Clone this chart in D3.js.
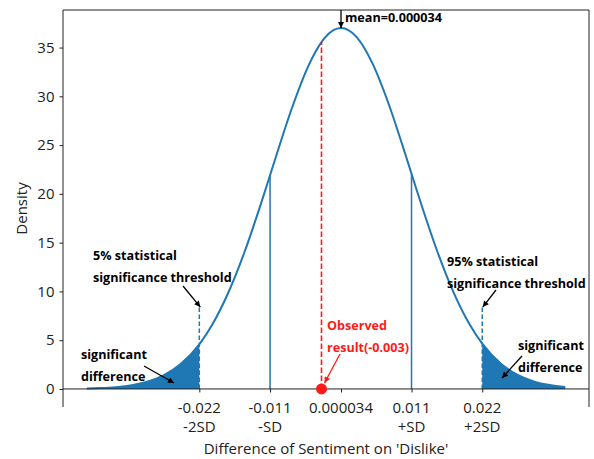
<!DOCTYPE html>
<html><head><meta charset="utf-8">
<script src="https://cdn.jsdelivr.net/npm/d3@7"></script>
<style>body{margin:0;background:#fff}svg{display:block}text{font-family:"Open Sans","Noto Sans",sans-serif}</style>
</head><body><svg id="c" width="594" height="459"></svg>
<script>
// ---- data ----
const curveX = [-0.0395,-0.0375,-0.035,-0.0325,-0.030,-0.0275,-0.025,-0.022,-0.020,-0.0175,-0.015,-0.0125,-0.011,-0.010,-0.0075,-0.005,-0.003,-0.0025,0.000034,0.0025,0.005,0.0075,0.010,0.011,0.0125,0.015,0.0175,0.020,0.022,0.025,0.0275,0.030,0.0325,0.0349];
const curveY = [0.044,0.086,0.188,0.39,0.763,1.418,2.497,4.58,6.58,9.86,13.99,18.82,21.91,23.99,28.98,33.18,35.56,35.99,37.0,36.05,33.27,29.11,24.14,22.06,18.96,14.12,9.96,6.66,4.64,2.53,1.44,0.777,0.397,0.198];
const meanValue = 0.000034;
const meanDensity = 37.0;
const sdLines = [-0.011, 0.011];
const sdDensity = [21.91, 22.06];
const thresholds = [-0.022, 0.022];
const thresholdTop = 8.5;
const observed = -0.003;
const observedDensity = 35.56;
const yTicks = [0,5,10,15,20,25,30,35];
const xTickValues = [-0.022,-0.011,0.000034,0.011,0.022];
const xTickLine1 = ["-0.022","-0.011","0.000034","0.011","0.022"];
const xTickLine2 = ["-2SD","-SD","","+SD","+2SD"];

const blue = "#1f77b4", red = "#ff1a1a";
const svg = d3.select("#c");
const L = 63, T = 10, W = 526, H = 397;
const x = d3.scaleLinear().domain([-0.0432, 0.0386]).range([L, L+W]);
const y = d3.scaleLinear().domain([-1.85, 38.85]).range([T+H, T]);
const pts = curveX.map((v,i)=>[v, curveY[i]]);

const defs = svg.append("defs");
function mk(id, col){
  defs.append("marker").attr("id",id).attr("viewBox","0 0 10 10").attr("refX",10).attr("refY",5)
    .attr("markerWidth",7).attr("markerHeight",6).attr("markerUnits","userSpaceOnUse").attr("orient","auto")
    .append("path").attr("d","M0,0L10,5L0,10z").attr("fill",col);
}
mk("ak","#000"); mk("ar",red);

// fills
const area = d3.area().x(d=>x(d[0])).y0(y(0)).y1(d=>y(d[1])).curve(d3.curveMonotoneX);
svg.append("path").datum(pts.filter(d=>d[0] <= thresholds[0])).attr("d",area).attr("fill",blue);
svg.append("path").datum(pts.filter(d=>d[0] >= thresholds[1])).attr("d",area).attr("fill",blue);

// curve
const line = d3.line().x(d=>x(d[0])).y(d=>y(d[1])).curve(d3.curveMonotoneX);
svg.append("path").datum(pts).attr("d",line).attr("fill","none").attr("stroke",blue).attr("stroke-width",2);

// SD lines
sdLines.forEach((v,i)=>svg.append("line").attr("x1",x(v)).attr("x2",x(v)).attr("y1",y(0)).attr("y2",y(sdDensity[i]))
  .attr("stroke",blue).attr("stroke-width",1.5));
// threshold dashed
thresholds.forEach(v=>svg.append("line").attr("x1",x(v)).attr("x2",x(v)).attr("y1",y(0)).attr("y2",y(thresholdTop))
  .attr("stroke",blue).attr("stroke-width",1.5).attr("stroke-dasharray","4.5,2.5"));
// observed dashed
svg.append("line").attr("x1",x(observed)).attr("x2",x(observed)).attr("y1",y(0)).attr("y2",y(observedDensity))
  .attr("stroke",red).attr("stroke-width",1.6).attr("stroke-dasharray","5.5,2.5");

// spines
const sp = svg.append("g").attr("stroke","#222").attr("stroke-width",1).attr("fill","none");
sp.append("line").attr("x1",L).attr("x2",L).attr("y1",T).attr("y2",T+H);
sp.append("line").attr("x1",L+W).attr("x2",L+W).attr("y1",T).attr("y2",T+H);
sp.append("line").attr("x1",L).attr("x2",L+W).attr("y1",T).attr("y2",T);

// y axis
const ya = svg.append("g").attr("transform",`translate(${L},0)`)
  .call(d3.axisLeft(y).tickValues(yTicks).tickSize(3.5).tickPadding(5).tickFormat(d3.format("d")));
ya.select(".domain").remove();
ya.selectAll("line").attr("stroke","#222");
ya.selectAll("text").attr("font-size",15).attr("fill","#222").style("font-family",'"Open Sans","Noto Sans",sans-serif');

// x axis on zero line
const xa = svg.append("g").attr("transform",`translate(0,${y(0)})`)
  .call(d3.axisBottom(x).tickValues(xTickValues).tickSize(3.5).tickFormat(""));
xa.select(".domain").attr("d",`M${L},0H${L+W}`).attr("stroke","#222");
xa.selectAll("line").attr("stroke","#222");
xTickValues.forEach((v,i)=>{
  const t = svg.append("text").attr("x",x(v)).attr("text-anchor","middle").attr("font-size",15).attr("fill","#222");
  t.append("tspan").attr("x",x(v)).attr("y",y(0)+24).text(xTickLine1[i]);
  t.append("tspan").attr("x",x(v)).attr("y",y(0)+43).text(xTickLine2[i]);
});
svg.append("text").attr("x",L+W/2).attr("y",454).attr("text-anchor","middle").attr("font-size",15).attr("fill","#222")
  .text("Difference of Sentiment on 'Dislike'");
svg.append("text").attr("transform",`translate(27,${T+H/2}) rotate(-90)`).attr("text-anchor","middle")
  .attr("font-size",15).attr("fill","#222").text("Density");

// annotations
function note(lines, tx, ty, col, from, to){
  const t = svg.append("text").attr("font-size",12.6).attr("font-weight","bold").attr("fill",col);
  lines.forEach((s,i)=>t.append("tspan").attr("x",tx).attr("y",ty+i*22).text(s));
  if(from) svg.append("line").attr("x1",from[0]).attr("y1",from[1]).attr("x2",to[0]).attr("y2",to[1])
    .attr("stroke",col).attr("stroke-width",1.3).attr("marker-end",`url(#${col===red?"ar":"ak"})`);
}
note(["mean=0.000034"], x(meanValue)+4, 22, "#000", [x(meanValue), T], [x(meanValue), y(meanDensity)]);
note(["5% statistical","significance threshold"], 93, 260, "#000", [183,286], [x(thresholds[0])+1, y(thresholdTop)+1]);
note(["significant","difference"], 81, 359, "#000", [144,366], [174,383]);
note(["95% statistical","significance threshold"], 447, 266, "#000", [496,290], [x(thresholds[1])+0.5, y(thresholdTop)+1]);
note(["significant","difference"], 518, 350, "#000", [522,356], [502,378]);
note(["Observed","result(-0.003)"], 327, 330, red, [340,354], [x(observed)+3, y(0)-6]);

svg.append("circle").attr("cx",x(observed)).attr("cy",y(0)).attr("r",5.5).attr("fill",red);
</script></body></html>
